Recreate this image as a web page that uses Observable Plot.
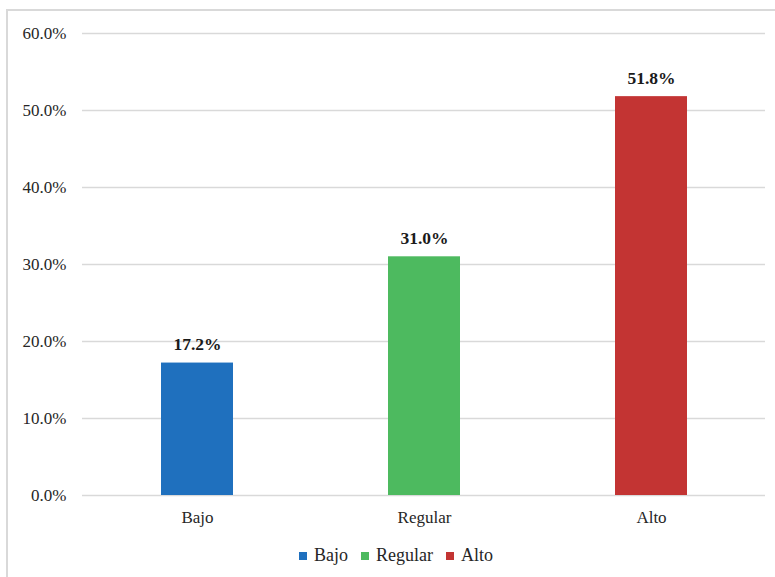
<!DOCTYPE html>
<html>
<head>
<meta charset="utf-8">
<script src="https://cdn.jsdelivr.net/npm/d3@7"></script>
<script src="https://cdn.jsdelivr.net/npm/@observablehq/plot@0.6"></script>
<style>
  html, body { margin: 0; padding: 0; background: #fff; overflow: hidden; }
  #wrap { position: relative; width: 775px; height: 577px; overflow: hidden; font-family: "Liberation Serif", "Times New Roman", serif; }
  #frame { position: absolute; left: 6px; top: 9px; width: 820px; height: 620px; border: 2px solid #d9d9d9; box-sizing: border-box; }
  #chart { position: absolute; left: 0; top: 0; }
  #legend { position: absolute; top: 545px; left: 299px; display: flex; align-items: center; font-size: 18px; color: #262626; white-space: nowrap; }
  .item { display: flex; align-items: center; margin-right: 13px; }
  .sw { width: 8px; height: 8px; margin-right: 7px; }
</style>
</head>
<body>
<div id="wrap">
  <div id="frame"></div>
  <div id="chart"></div>
  <div id="legend"></div>
</div>
<script>
// Nivel: porcentaje por categoría
const categories = ["Bajo", "Regular", "Alto"];
const values = [17.2, 31.0, 51.8];
const colors = ["#1f70be", "#4dba5f", "#c33433"];
const yTicks = [0, 10, 20, 30, 40, 50, 60];

const rows = categories.map((c, i) => ({category: c, value: values[i]}));

const chart = Plot.plot({
  width: 775,
  height: 530,
  marginLeft: 82,
  marginRight: 10,
  marginTop: 33,
  marginBottom: 35,
  style: {fontFamily: "'Liberation Serif', 'Times New Roman', serif", fontSize: "17px", color: "#262626", background: "transparent"},
  x: {domain: categories, paddingInner: 0.684, paddingOuter: 0.342, label: null},
  y: {domain: [0, 60], label: null},
  color: {domain: categories, range: colors},
  marks: [
    Plot.gridY(yTicks, {stroke: "#d9d9d9", strokeOpacity: 1, strokeWidth: 1.3}),
    Plot.axisY({ticks: yTicks, tickFormat: d => d.toFixed(1) + "%", tickSize: 0, tickPadding: 16, label: null}),
    Plot.axisX({tickSize: 0, tickPadding: 15, label: null}),
    Plot.barY(rows, {x: "category", y: "value", fill: "category"}),
    Plot.text(rows, {x: "category", y: "value", text: d => d.value.toFixed(1) + "%", lineAnchor: "bottom", dy: -13, fontWeight: "bold", fontSize: 17.5, fill: "#1a1a1a"})
  ]
});
document.getElementById("chart").append(chart);

const legend = document.getElementById("legend");
categories.forEach((c, i) => {
  const item = document.createElement("div");
  item.className = "item";
  const sw = document.createElement("span");
  sw.className = "sw";
  sw.style.background = colors[i];
  const label = document.createElement("span");
  label.textContent = c;
  item.append(sw, label);
  legend.append(item);
});
</script>
</body>
</html>
